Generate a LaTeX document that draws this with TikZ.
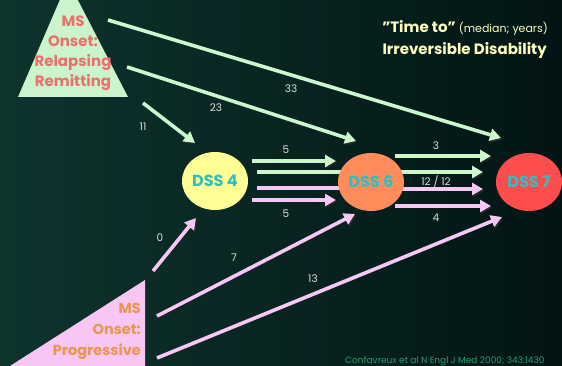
\documentclass[tikz,border=0pt]{standalone}
\usepackage{fontspec}
\setmainfont{Poppins}
\usetikzlibrary{arrows.meta,shapes.geometric}
\definecolor{bgL}{RGB}{14,52,46}
\definecolor{bgR}{RGB}{2,20,20}
\definecolor{grn}{RGB}{204,246,204}
\definecolor{pnk}{RGB}{246,200,246}
\definecolor{trigr}{RGB}{204,244,204}
\definecolor{tripk}{RGB}{248,198,242}
\definecolor{rrtext}{RGB}{234,112,110}
\definecolor{pgtext}{RGB}{234,150,80}
\definecolor{yel}{RGB}{255,255,150}
\definecolor{org}{RGB}{255,140,90}
\definecolor{rd}{RGB}{255,76,76}
\definecolor{dsstext}{RGB}{50,190,190}
\definecolor{numc}{RGB}{222,222,222}
\definecolor{titc}{RGB}{255,255,190}
\definecolor{citec}{RGB}{40,160,110}
\begin{document}
\begin{tikzpicture}[x=1pt,y=-1pt,
  shadowed/.style={preaction={draw=black!85, transform canvas={shift={(1.3pt,-1.6pt)}}}},
  garrow/.style={line width=3.6pt, draw=grn, -{Triangle[length=11pt,width=12pt]}, shadowed},
  parrow/.style={line width=3.6pt, draw=pnk, -{Triangle[length=11pt,width=12pt]}, shadowed},
  gline/.style={line width=3.6pt, draw=grn, shadowed},
  pline/.style={line width=3.6pt, draw=pnk, shadowed},
  num/.style={text=numc, font=\fontsize{10.5}{12}\selectfont, inner sep=0},
  dss/.style={ellipse, minimum width=66pt, minimum height=58pt, inner sep=0,
    text=dsstext, font=\fontsize{16}{18}\selectfont\bfseries},
]
\useasboundingbox (0,0) rectangle (562,366);
\clip (0,0) rectangle (562,366);
\shade[left color=bgL, right color=bgR] (0,0) rectangle (562,366);

% coordinates
\coordinate (s33) at (108,20);  \coordinate (e33) at (501,138);
\coordinate (s23) at (127,67);  \coordinate (e23) at (356,141);
\coordinate (s11) at (143,103); \coordinate (e11) at (195,143);
\coordinate (s0)  at (153,271); \coordinate (e0)  at (196,218);
\coordinate (s7)  at (157,316); \coordinate (e7)  at (355,214);
\coordinate (s13) at (157,358); \coordinate (e13) at (502,217);
% DSS4 -> DSS6
\coordinate (h1s) at (252,161); \coordinate (h1e) at (336,161);
\coordinate (h2s) at (257,172); \coordinate (h2e) at (350,172);
\coordinate (h3s) at (257,188); \coordinate (h3e) at (350,188);
\coordinate (h4s) at (252,200); \coordinate (h4e) at (336,200);
% DSS6 -> DSS7
\coordinate (k1s) at (395,156); \coordinate (k1e) at (491,156);
\coordinate (k2s) at (395,172); \coordinate (k2e) at (483,172);
\coordinate (k3s) at (395,189); \coordinate (k3e) at (483,189);
\coordinate (k4s) at (395,206); \coordinate (k4e) at (491,206);

% connectors
\draw[garrow] (s33) -- (e33);
\draw[garrow] (s23) -- (e23);
\draw[garrow] (s11) -- (e11);
\draw[parrow] (s0) -- (e0);
\draw[parrow] (s7) -- (e7);
\draw[parrow] (s13) -- (e13);
\draw[garrow] (h1s) -- (h1e);
\draw[gline]  (h2s) -- (h2e);
\draw[pline]  (h3s) -- (h3e);
\draw[parrow] (h4s) -- (h4e);
\draw[garrow] (k1s) -- (k1e);
\draw[garrow] (k2s) -- (k2e);
\draw[parrow] (k3s) -- (k3e);
\draw[parrow] (k4s) -- (k4e);

% DSS nodes
\node[dss, fill=yel] (d4) at (215,181) {DSS 4};
\node[dss, fill=org] (d6) at (371,182) {DSS 6};
\node[dss, fill=rd]  (d7) at (529,182) {DSS 7};

% triangles
\fill[trigr] (68,-19) -- (128,97) -- (18,97) -- cycle;
\fill[tripk] (10,366) -- (145,280) -- (145,366) -- cycle;
\node[align=center, text=rrtext, font=\fontsize{15}{20}\selectfont\bfseries, inner sep=0] (rr) at (73,53)
  {MS\\Onset:\\Relapsing\\Remitting};
\node[align=right, anchor=east, text=pgtext, font=\fontsize{14.5}{21}\selectfont\bfseries, inner sep=0] (pg) at (141,331)
  {MS\\Onset:\\Progressive};

% labels
\node[num] (l33) at (291,89) {33};
\node[num] (l23) at (216,108) {23};
\node[num] (l11) at (143,127) {11};
\node[num] (l0)  at (160,238) {0};
\node[num] (l7)  at (234,258) {7};
\node[num] (l13) at (313,279) {13};
\node[num] (la)  at (286,150) {5};
\node[num] (lb)  at (286,214) {5};
\node[num] (lc)  at (436,146) {3};
\node[num] (ld)  at (436,181) {12 / 12};
\node[num] (le)  at (436,218) {4};

% title
\node[anchor=east, text=titc, inner sep=0] (t1) at (548,28)
  {\fontsize{15}{18}\selectfont\bfseries \symbol{34}Time to\symbol{34}\ \fontsize{11}{12}\selectfont\mdseries (median; years)};
\node[anchor=east, text=titc, inner sep=0, font=\fontsize{15}{18}\selectfont\bfseries] (t2) at (547,50)
  {Irreversible Disability};

% citation
\node[anchor=base west, text=citec, inner sep=0, font=\fontsize{9}{11}\selectfont] (cite) at (345,363)
  {Confavreux et al N Engl J Med 2000; 343:1430};
\end{tikzpicture}
\end{document}
